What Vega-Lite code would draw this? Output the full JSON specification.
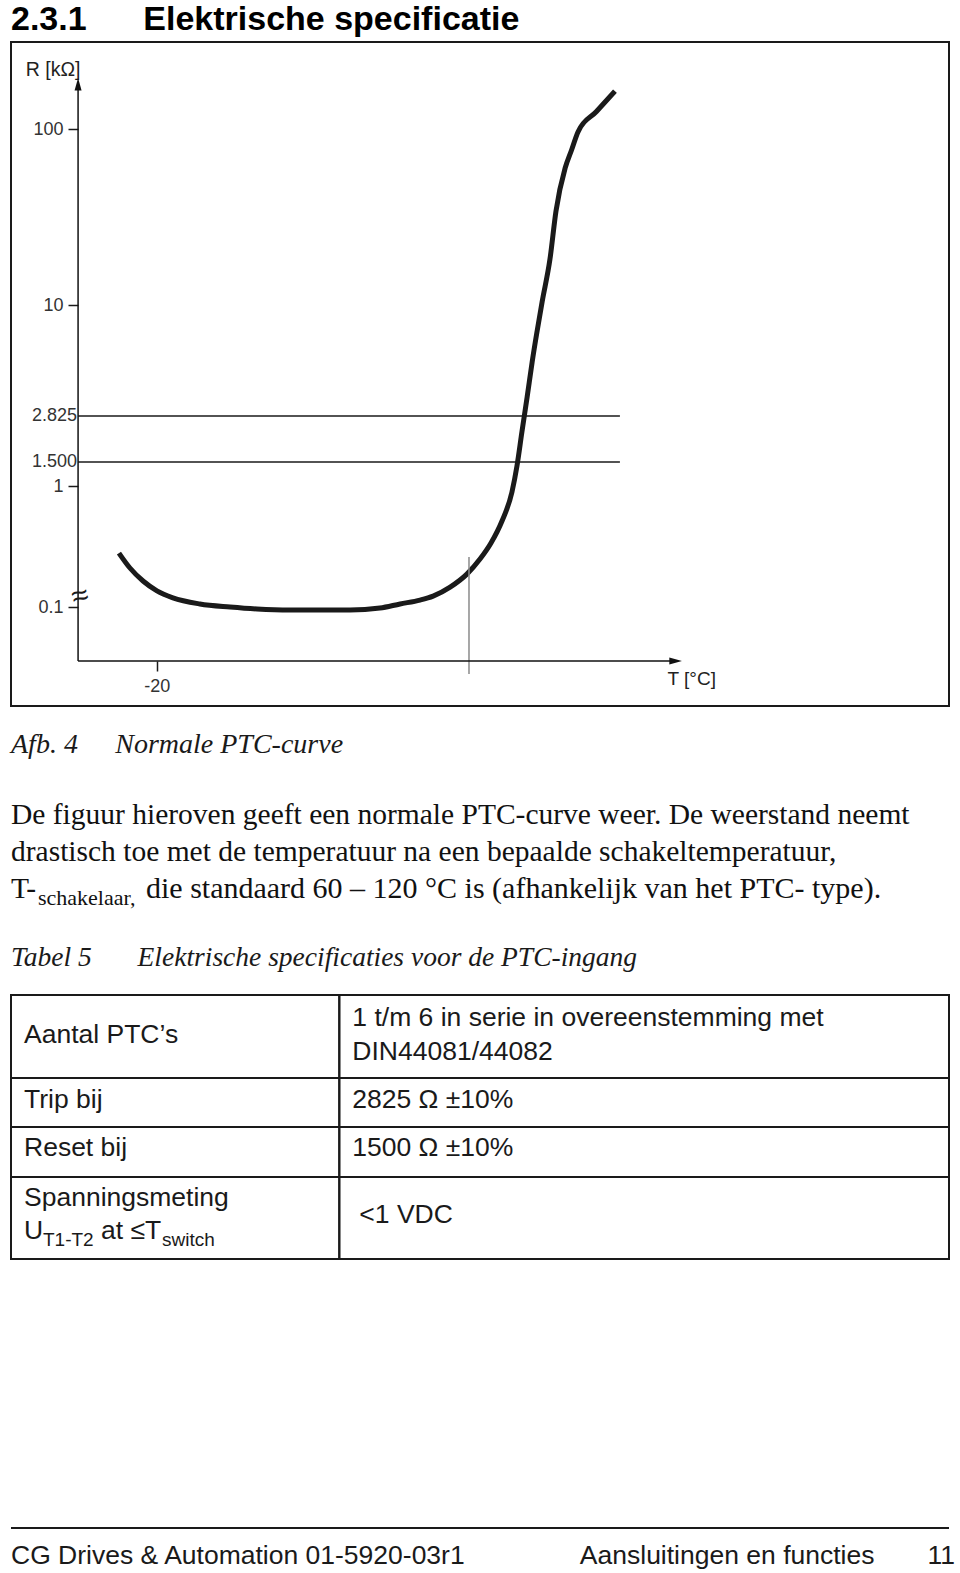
{
  "$schema": "https://vega.github.io/schema/vega-lite/v6.json",
  "padding": {"left": 10, "top": 3, "right": 0, "bottom": 0},
  "bounds": "flush",
  "spacing": 0,
  "title": {
    "text": "2.3.1\u2003\u2002\u2006Elektrische specificatie",
    "anchor": "start",
    "frame": "group",
    "font": "Liberation Sans",
    "fontSize": 34,
    "fontWeight": "bold",
    "color": "#000000",
    "baseline": "top",
    "offset": 4
  },
  "config": {
    "view": {"stroke": null},
    "font": "Liberation Sans",
    "axis": {"labelFont": "Liberation Sans", "titleFont": "Liberation Sans", "grid": false},
    "text": {"font": "Liberation Sans"}
  },
  "vconcat": [
    {
      "width": 938,
      "height": 664,
      "view": {"stroke": "#1a1a1a", "strokeWidth": 2},
      "title": {
        "text": "Afb. 4\u2003\u2004Normale PTC-curve",
        "orient": "bottom",
        "anchor": "start",
        "frame": "group",
        "font": "Liberation Serif",
        "fontStyle": "italic",
        "fontSize": 28,
        "fontWeight": "normal",
        "color": "#1a1a1a",
        "baseline": "top",
        "offset": 25
      },
      "layer": [
        {
          "data": {"values": [
            {"T": -34.4, "R": 0.279}, {"T": -30.2, "R": 0.21}, {"T": -25.2, "R": 0.164},
            {"T": -19.9, "R": 0.136}, {"T": -13.8, "R": 0.119}, {"T": -3.5, "R": 0.106},
            {"T": 8.0, "R": 0.1}, {"T": 18.3, "R": 0.0963}, {"T": 30.9, "R": 0.0945},
            {"T": 42.3, "R": 0.0945}, {"T": 53.8, "R": 0.0945}, {"T": 65.2, "R": 0.098},
            {"T": 72.9, "R": 0.106}, {"T": 80.5, "R": 0.114}, {"T": 85.5, "R": 0.123},
            {"T": 92.0, "R": 0.146}, {"T": 98.4, "R": 0.187}, {"T": 103.4, "R": 0.249},
            {"T": 107.6, "R": 0.338}, {"T": 111.8, "R": 0.514}, {"T": 115.6, "R": 0.892},
            {"T": 117.5, "R": 1.4}, {"T": 119.4, "R": 2.27}, {"T": 121.4, "R": 3.51},
            {"T": 123.3, "R": 5.22}, {"T": 125.2, "R": 7.43}, {"T": 127.1, "R": 10.4},
            {"T": 130.1, "R": 18.2}, {"T": 132.4, "R": 34.2}, {"T": 135.9, "R": 60.0},
            {"T": 138.35, "R": 76.0}, {"T": 140.8, "R": 96.2}, {"T": 147.85, "R": 125.7},
            {"T": 154.9, "R": 164}
          ]},
          "mark": {"type": "line", "color": "#1a1a1a", "strokeWidth": 5, "interpolate": "monotone", "strokeJoin": "round"},
          "encoding": {
            "x": {
              "field": "T", "type": "quantitative",
              "scale": {"domain": [-75.6, 282.4], "nice": false, "zero": false},
              "axis": {
                "orient": "bottom", "offset": -45, "values": [-20],
                "labelExpr": "'' + datum.value",
                "domain": false, "grid": false, "ticks": true, "tickSize": 10,
                "tickColor": "#1a1a1a", "tickWidth": 1.5,
                "labelFontSize": 18, "labelColor": "#333333", "labelPadding": 6, "labelFlush": false,
                "title": "T [°C]", "titleX": 656, "titleY": 17, "titleAlign": "left",
                "titleBaseline": "middle", "titleFontSize": 19, "titleFontWeight": "normal", "titleColor": "#222222"
              }
            },
            "y": {
              "field": "R", "type": "quantitative",
              "scale": {
                "type": "log",
                "domain": [0.0152, 0.1, 1, 1.5, 2.825, 10, 100, 312],
                "range": [664, 565, 444, 420, 374, 263, 87, 0],
                "nice": false, "zero": false
              },
              "axis": {
                "orient": "left", "offset": -67, "values": [0.1, 1, 10, 100],
                "labelExpr": "'' + datum.value",
                "domain": false, "grid": false, "ticks": true, "tickSize": 10,
                "tickColor": "#1a1a1a", "tickWidth": 1.5,
                "labelFontSize": 18, "labelColor": "#333333", "labelPadding": 5, "labelFlush": false,
                "title": "R [kΩ]", "titleAngle": 0, "titleX": 2, "titleY": 27, "titleAlign": "right",
                "titleBaseline": "middle", "titleFontSize": 19.5, "titleFontWeight": "normal", "titleColor": "#222222"
              }
            }
          }
        },
        {
          "data": {"values": [
            {"T": -50, "T2": 156.8, "R": 2.825, "label": "2.825"},
            {"T": -50, "T2": 156.8, "R": 1.5, "label": "1.500"}
          ]},
          "layer": [
            {
              "mark": {"type": "rule", "color": "#1a1a1a", "strokeWidth": 1.5},
              "encoding": {
                "x": {"field": "T", "type": "quantitative"},
                "x2": {"field": "T2"},
                "y": {"field": "R", "type": "quantitative"}
              }
            },
            {
              "mark": {"type": "text", "align": "right", "baseline": "middle", "dx": -1, "fontSize": 18, "color": "#333333"},
              "encoding": {
                "x": {"field": "T", "type": "quantitative"},
                "y": {"field": "R", "type": "quantitative"},
                "text": {"field": "label"}
              }
            }
          ]
        },
        {
          "data": {"values": [{"T": 99.2, "R": 0.0279, "R2": 0.259}]},
          "mark": {"type": "rule", "color": "#8a8a8a", "strokeWidth": 1.5},
          "encoding": {
            "x": {"field": "T", "type": "quantitative"},
            "y": {"field": "R", "type": "quantitative"},
            "y2": {"field": "R2"}
          }
        },
        {
          "data": {"values": [
            {"T": -50, "T2": -50, "R": 0.0358, "R2": 170},
            {"T": -50, "T2": 176, "R": 0.0358, "R2": 0.0358}
          ]},
          "mark": {"type": "rule", "color": "#111111", "strokeWidth": 1.5},
          "encoding": {
            "x": {"field": "T", "type": "quantitative"},
            "x2": {"field": "T2"},
            "y": {"field": "R", "type": "quantitative"},
            "y2": {"field": "R2"}
          }
        },
        {
          "data": {"values": [
            {"T": -50, "R": 177.8, "dir": "up"},
            {"T": 177.8, "R": 0.0358, "dir": "right"}
          ]},
          "mark": {"type": "point", "filled": true, "opacity": 1, "color": "#111111", "size": 196},
          "encoding": {
            "x": {"field": "T", "type": "quantitative"},
            "y": {"field": "R", "type": "quantitative"},
            "shape": {
              "field": "dir", "type": "nominal",
              "scale": {"domain": ["up", "right"], "range": ["M0,-1L0.5,0.8L-0.5,0.8Z", "M1,0L-0.8,0.5L-0.8,-0.5Z"]},
              "legend": null
            }
          }
        },
        {
          "data": {"values": [{"T": -50, "R": 0.121, "sym": "≈"}]},
          "mark": {"type": "text", "align": "center", "baseline": "middle", "dx": 2, "fontSize": 30, "angle": -15, "color": "#1a1a1a"},
          "encoding": {
            "x": {"field": "T", "type": "quantitative"},
            "y": {"field": "R", "type": "quantitative"},
            "text": {"field": "sym"}
          }
        }
      ]
    },
    {
      "width": 938,
      "height": 289,
      "data": {"values": [
        {"line": 3, "piece": "main", "text": "De figuur hieroven geeft een normale PTC-curve weer. De weerstand neemt"},
        {"line": 4, "piece": "main", "text": "drastisch toe met de temperatuur na een bepaalde schakeltemperatuur,"},
        {"line": 5, "piece": "main", "text": "T-"},
        {"line": 5, "piece": "sub", "text": "schakelaar,"},
        {"line": 5, "piece": "rest", "text": "die standaard 60 – 120 °C is (afhankelijk van het PTC- type)."}
      ]},
      "encoding": {
        "x": {"datum": 0, "type": "quantitative", "scale": {"domain": [0, 1], "nice": false}, "axis": null},
        "y": {"field": "line", "type": "quantitative", "scale": {"domain": [-0.189, 7.622], "reverse": true, "nice": false, "zero": false}, "axis": null},
        "text": {"field": "text"}
      },
      "layer": [
        {
          "transform": [{"filter": "datum.piece == 'main'"}],
          "mark": {"type": "text", "font": "Liberation Serif", "fontSize": 29.5, "align": "left", "baseline": "alphabetic", "color": "#111111"}
        },
        {
          "transform": [{"filter": "datum.piece == 'sub'"}],
          "mark": {"type": "text", "font": "Liberation Serif", "fontSize": 22, "align": "left", "baseline": "alphabetic", "dx": 27, "dy": 7, "color": "#111111"}
        },
        {
          "transform": [{"filter": "datum.piece == 'rest'"}],
          "mark": {"type": "text", "font": "Liberation Serif", "fontSize": 30, "align": "left", "baseline": "alphabetic", "dx": 135, "color": "#111111"}
        }
      ]
    },
    {
      "width": 938,
      "height": 264,
      "title": {
        "text": "Tabel 5\u2003\u2002\u2006Elektrische specificaties voor de PTC-ingang",
        "orient": "top",
        "anchor": "start",
        "frame": "group",
        "font": "Liberation Serif",
        "fontStyle": "italic",
        "fontSize": 27.5,
        "fontWeight": "normal",
        "color": "#1a1a1a",
        "baseline": "top",
        "offset": 23
      },
      "layer": [
        {
          "data": {"values": [
            {"row": 1, "col": "a", "c0": 0, "c1": 0.35, "r0": 0, "r1": 2.44},
            {"row": 1, "col": "b", "c0": 0.35, "c1": 1, "r0": 0, "r1": 2.44},
            {"row": 2, "col": "a", "c0": 0, "c1": 0.35, "r0": 2.44, "r1": 3.88},
            {"row": 2, "col": "b", "c0": 0.35, "c1": 1, "r0": 2.44, "r1": 3.88},
            {"row": 3, "col": "a", "c0": 0, "c1": 0.35, "r0": 3.88, "r1": 5.35},
            {"row": 3, "col": "b", "c0": 0.35, "c1": 1, "r0": 3.88, "r1": 5.35},
            {"row": 4, "col": "a", "c0": 0, "c1": 0.35, "r0": 5.35, "r1": 7.765},
            {"row": 4, "col": "b", "c0": 0.35, "c1": 1, "r0": 5.35, "r1": 7.765}
          ]},
          "mark": {"type": "rect", "filled": false, "color": "#1a1a1a", "strokeWidth": 2},
          "encoding": {
            "x": {"field": "c0", "type": "quantitative", "scale": {"domain": [0, 1], "nice": false}, "axis": null},
            "x2": {"field": "c1"},
            "y": {"field": "r0", "type": "quantitative", "scale": {"domain": [0, 7.765], "reverse": true, "nice": false}, "axis": null},
            "y2": {"field": "r1"}
          }
        },
        {
          "data": {"values": [
            {"c0": 0, "ln": 1.41, "piece": "main", "text": "Aantal PTC’s"},
            {"c0": 0.35, "ln": 0.91, "piece": "main", "text": "1 t/m 6 in serie in overeenstemming met"},
            {"c0": 0.35, "ln": 1.91, "piece": "main", "text": "DIN44081/44082"},
            {"c0": 0, "ln": 3.33, "piece": "main", "text": "Trip bij"},
            {"c0": 0.35, "ln": 3.33, "piece": "main", "text": "2825 Ω ±10%"},
            {"c0": 0, "ln": 4.74, "piece": "main", "text": "Reset bij"},
            {"c0": 0.35, "ln": 4.74, "piece": "main", "text": "1500 Ω ±10%"},
            {"c0": 0, "ln": 6.21, "piece": "main", "text": "Spanningsmeting"},
            {"c0": 0.35, "ln": 6.71, "piece": "indent", "text": "<1 VDC"},
            {"c0": 0, "ln": 7.18, "piece": "main", "text": "U"},
            {"c0": 0, "ln": 7.18, "piece": "sub1", "text": "T1-T2"},
            {"c0": 0, "ln": 7.18, "piece": "mid", "text": "at ≤T"},
            {"c0": 0, "ln": 7.18, "piece": "sub2", "text": "switch"}
          ]},
          "encoding": {
            "x": {"field": "c0", "type": "quantitative", "scale": {"domain": [0, 1], "nice": false}, "axis": null},
            "y": {"field": "ln", "type": "quantitative", "scale": {"domain": [0, 7.765], "reverse": true, "nice": false}, "axis": null},
            "text": {"field": "text"}
          },
          "layer": [
            {
              "transform": [{"filter": "datum.piece == 'main'"}],
              "mark": {"type": "text", "fontSize": 26.5, "align": "left", "baseline": "alphabetic", "dx": 13, "color": "#1a1a1a"}
            },
            {
              "transform": [{"filter": "datum.piece == 'indent'"}],
              "mark": {"type": "text", "fontSize": 26.5, "align": "left", "baseline": "alphabetic", "dx": 20, "color": "#1a1a1a"}
            },
            {
              "transform": [{"filter": "datum.piece == 'sub1'"}],
              "mark": {"type": "text", "fontSize": 19, "align": "left", "baseline": "alphabetic", "dx": 32, "dy": 7, "color": "#1a1a1a"}
            },
            {
              "transform": [{"filter": "datum.piece == 'mid'"}],
              "mark": {"type": "text", "fontSize": 26.5, "align": "left", "baseline": "alphabetic", "dx": 90, "color": "#1a1a1a"}
            },
            {
              "transform": [{"filter": "datum.piece == 'sub2'"}],
              "mark": {"type": "text", "fontSize": 19, "align": "left", "baseline": "alphabetic", "dx": 151, "dy": 7, "color": "#1a1a1a"}
            }
          ]
        }
      ]
    },
    {
      "width": 938,
      "height": 305,
      "data": {"values": [
        {"side": "left", "text": "CG Drives & Automation 01-5920-03r1"},
        {"side": "right", "text": "Aansluitingen en functies\u2003\u200311"}
      ]},
      "layer": [
        {
          "mark": {"type": "rule", "color": "#1a1a1a", "strokeWidth": 2},
          "encoding": {
            "y": {"datum": 0.118, "type": "quantitative", "scale": {"domain": [0, 1], "nice": false}, "axis": null}
          }
        },
        {
          "transform": [{"filter": "datum.side == 'left'"}],
          "mark": {"type": "text", "fontSize": 26.5, "align": "left", "baseline": "alphabetic", "color": "#1a1a1a"},
          "encoding": {
            "x": {"field": "side", "type": "ordinal", "scale": {"type": "point", "domain": ["left", "right"], "padding": 0}, "axis": null},
            "y": {"datum": 0, "type": "quantitative", "scale": {"domain": [0, 1], "nice": false}, "axis": null},
            "text": {"field": "text"}
          }
        },
        {
          "transform": [{"filter": "datum.side == 'right'"}],
          "mark": {"type": "text", "fontSize": 26.5, "align": "right", "baseline": "alphabetic", "dx": 6, "color": "#1a1a1a"},
          "encoding": {
            "x": {"field": "side", "type": "ordinal", "scale": {"type": "point", "domain": ["left", "right"], "padding": 0}, "axis": null},
            "y": {"datum": 0, "type": "quantitative", "scale": {"domain": [0, 1], "nice": false}, "axis": null},
            "text": {"field": "text"}
          }
        }
      ]
    }
  ]
}
